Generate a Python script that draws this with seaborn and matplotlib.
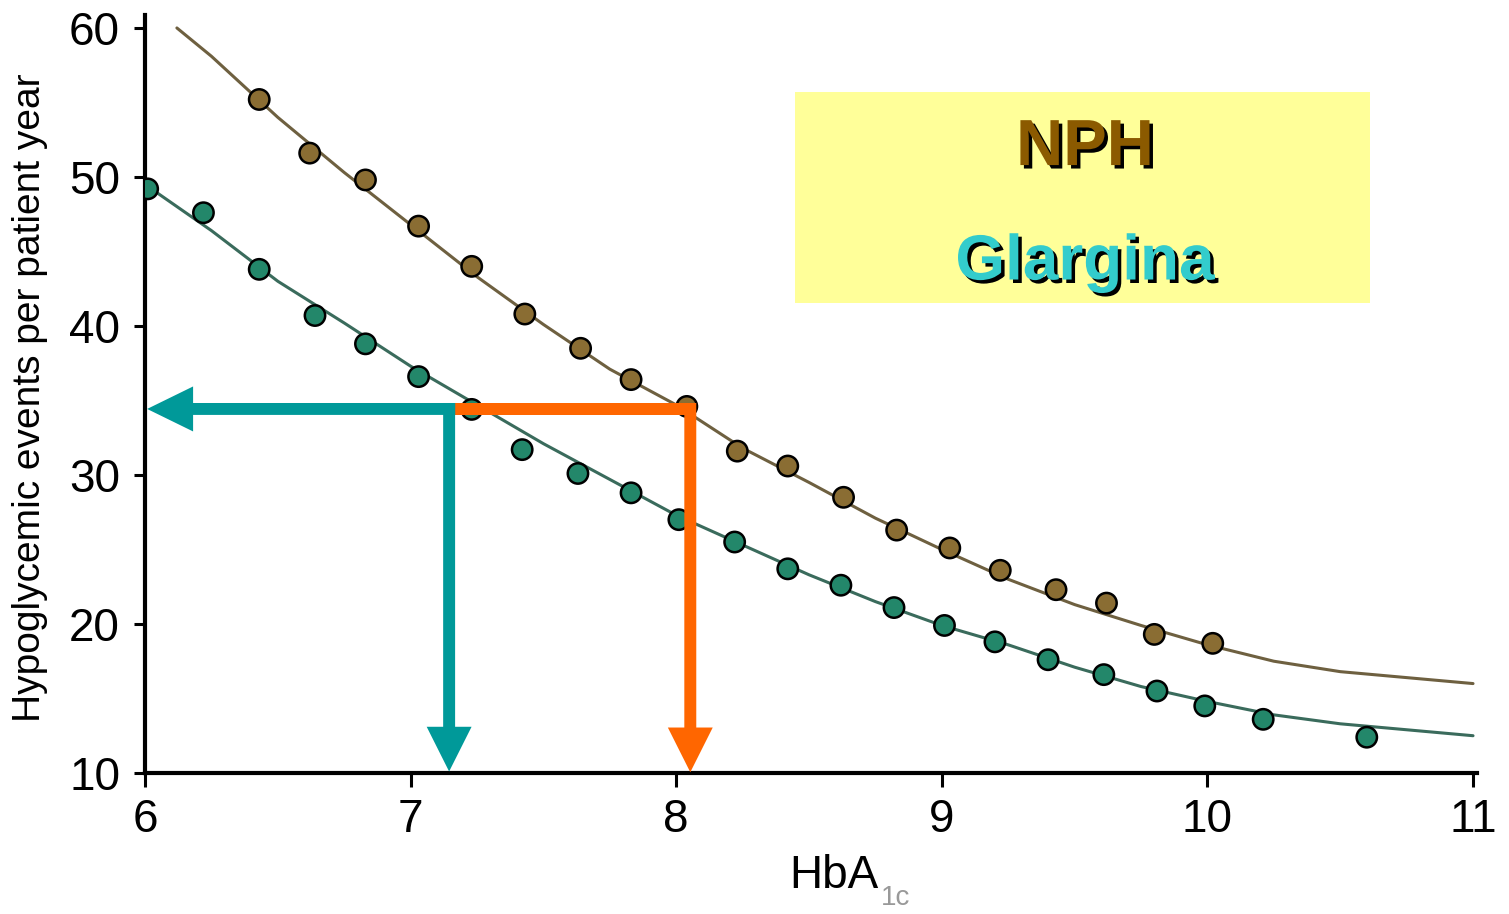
import numpy as np
import pandas as pd
import matplotlib
matplotlib.use('Agg')
import matplotlib.pyplot as plt
import seaborn as sns
import matplotlib.patheffects as PathEffects
from matplotlib.patches import FancyArrow, Rectangle

# Data =========================================================================
# observed points (HbA1c, hypoglycemic events per patient year)
nph_x = [6.43, 6.62, 6.83, 7.03, 7.23, 7.43, 7.64, 7.83, 8.04, 8.23, 8.42,
         8.63, 8.83, 9.03, 9.22, 9.43, 9.62, 9.80, 10.02]
nph_y = [55.2, 51.6, 49.8, 46.7, 44.0, 40.8, 38.5, 36.4, 34.6, 31.6, 30.6,
         28.5, 26.3, 25.1, 23.6, 22.3, 21.4, 19.3, 18.7]
glargina_x = [6.01, 6.22, 6.43, 6.64, 6.83, 7.03, 7.23, 7.42, 7.63, 7.83,
              8.01, 8.22, 8.42, 8.62, 8.82, 9.01, 9.20, 9.40, 9.61, 9.81,
              9.99, 10.21, 10.60]
glargina_y = [49.2, 47.6, 43.8, 40.7, 38.8, 36.6, 34.4, 31.7, 30.1, 28.8,
              27.0, 25.5, 23.7, 22.6, 21.1, 19.9, 18.8, 17.6, 16.6, 15.5,
              14.5, 13.6, 12.4]

# fitted curves
nph_fit_x = [6.12, 6.25, 6.5, 6.75, 7.0, 7.25, 7.5, 7.75, 8.0, 8.25, 8.5,
             8.75, 9.0, 9.25, 9.5, 9.75, 10.0, 10.25, 10.5, 10.75, 11.0]
nph_fit_y = [60.0, 58.1, 54.0, 50.3, 46.8, 43.3, 40.1, 37.1, 34.7, 31.8, 29.5,
             27.1, 25.0, 23.0, 21.3, 19.9, 18.6, 17.5, 16.8, 16.4, 16.0]
glargina_fit_x = [6.0, 6.25, 6.5, 6.75, 7.0, 7.25, 7.5, 7.75, 8.0, 8.25, 8.5,
                  8.75, 9.0, 9.25, 9.5, 9.75, 10.0, 10.25, 10.5, 10.75, 11.0]
glargina_fit_y = [49.5, 46.4, 43.0, 40.2, 37.3, 34.7, 32.1, 29.7, 27.3, 25.3,
                  23.3, 21.5, 19.9, 18.6, 17.1, 15.8, 14.8, 13.9, 13.3, 12.9,
                  12.5]

# reference lines (same event rate -> HbA1c for each insulin)
target_rate = 34.43
hba1c_glargina = 7.145
hba1c_nph = 8.053

x_ticks = [6, 7, 8, 9, 10, 11]
y_ticks = [10, 20, 30, 40, 50, 60]

# Build dataframes =============================================================
points_df = pd.concat([
    pd.DataFrame({'HbA1c': nph_x, 'events': nph_y, 'insulin': 'NPH'}),
    pd.DataFrame({'HbA1c': glargina_x, 'events': glargina_y,
                  'insulin': 'Glargina'})])
fit_df = pd.concat([
    pd.DataFrame({'HbA1c': nph_fit_x, 'events': nph_fit_y, 'insulin': 'NPH'}),
    pd.DataFrame({'HbA1c': glargina_fit_x, 'events': glargina_fit_y,
                  'insulin': 'Glargina'})])

point_colors = {'NPH': '#8a6d33', 'Glargina': '#23876a'}
line_colors = {'NPH': '#6e6040', 'Glargina': '#3a6b5c'}
teal = '#009999'
orange = '#ff6600'

# Plotting =====================================================================
sns.set_style('ticks')
plt.rcParams['font.family'] = ['Liberation Sans', 'DejaVu Sans']

fig = plt.figure(figsize=(15.09, 9.14), dpi=100)
ax = fig.add_axes([0.0961, 0.1543, 0.8827, 0.8293])

sns.lineplot(data=fit_df, x='HbA1c', y='events', hue='insulin',
             palette=line_colors, linewidth=2.2, legend=False, ax=ax,
             zorder=2)
sns.scatterplot(data=points_df, x='HbA1c', y='events', hue='insulin',
                palette=point_colors, s=215, edgecolor='black', linewidth=1.8,
                legend=False, ax=ax, zorder=3)

ax.set_xlim(6, 11.015)
ax.set_ylim(10, 60.87)
ax.set_xticks(x_ticks)
ax.set_yticks(y_ticks)
ax.tick_params(axis='both', labelsize=33, colors='black', width=2.2)
ax.tick_params(axis='x', length=10, pad=8)
ax.tick_params(axis='y', length=8, pad=10)
for side in ['top', 'right']:
    ax.spines[side].set_visible(False)
for side in ['left', 'bottom']:
    ax.spines[side].set_linewidth(3)
    ax.spines[side].set_color('black')

# Arrows =======================================================================
half_w = 0.0226  # half of vertical arrow width in x units
arrow_kw = dict(length_includes_head=True, zorder=5, linewidth=0)

# orange (NPH) first, teal on top
ax.add_patch(FancyArrow(hba1c_glargina + half_w, target_rate,
                        hba1c_nph - hba1c_glargina, 0,
                        width=0.8, head_width=0, head_length=0,
                        color=orange, **arrow_kw))
ax.add_patch(FancyArrow(hba1c_nph, target_rate + 0.4, 0,
                        10.05 - target_rate - 0.4,
                        width=0.045, head_width=0.169, head_length=3.0,
                        color=orange, **arrow_kw))
ax.add_patch(FancyArrow(hba1c_glargina + half_w, target_rate,
                        6.008 - hba1c_glargina - half_w, 0,
                        width=0.8, head_width=3.02, head_length=0.173,
                        color=teal, **arrow_kw))
ax.add_patch(FancyArrow(hba1c_glargina, target_rate + 0.4, 0,
                        10.1 - target_rate - 0.4,
                        width=0.045, head_width=0.169, head_length=3.0,
                        color=teal, **arrow_kw))

# Legend box ===================================================================
ax.add_patch(Rectangle((0.488, 0.620), 0.4317, 0.278, transform=ax.transAxes,
                       facecolor='#ffff99', edgecolor='none', zorder=1))
shadow = [PathEffects.SimplePatchShadow(offset=(2.5, -2.5),
                                        shadow_rgbFace='black', alpha=1),
          PathEffects.Normal()]
ax.text(0.7057, 0.802, 'NPH', transform=ax.transAxes, ha='center',
        va='baseline', fontsize=47, fontweight='bold', color='#8b5a00',
        path_effects=shadow, zorder=6)
ax.text(0.7057, 0.651, 'Glargina', transform=ax.transAxes, ha='center',
        va='baseline', fontsize=46, fontweight='bold', color='#33cccc',
        path_effects=shadow, zorder=6)

# Labels =======================================================================
ax.set_ylabel('Hypoglycemic events per patient year', fontsize=28,
              color='black')
ax.yaxis.set_label_coords(-0.073, 0.495)
xlab = ax.set_xlabel('HbA', fontsize=33, color='black')
ax.xaxis.set_label_coords(0.517, -0.107)
ax.annotate('1c', xy=(1.0, 0.0), xycoords=xlab, xytext=(2, 0),
            textcoords='offset points', ha='left', va='center',
            fontsize=20, color='#999999', annotation_clip=False)

fig.savefig('out.png', dpi=100)
